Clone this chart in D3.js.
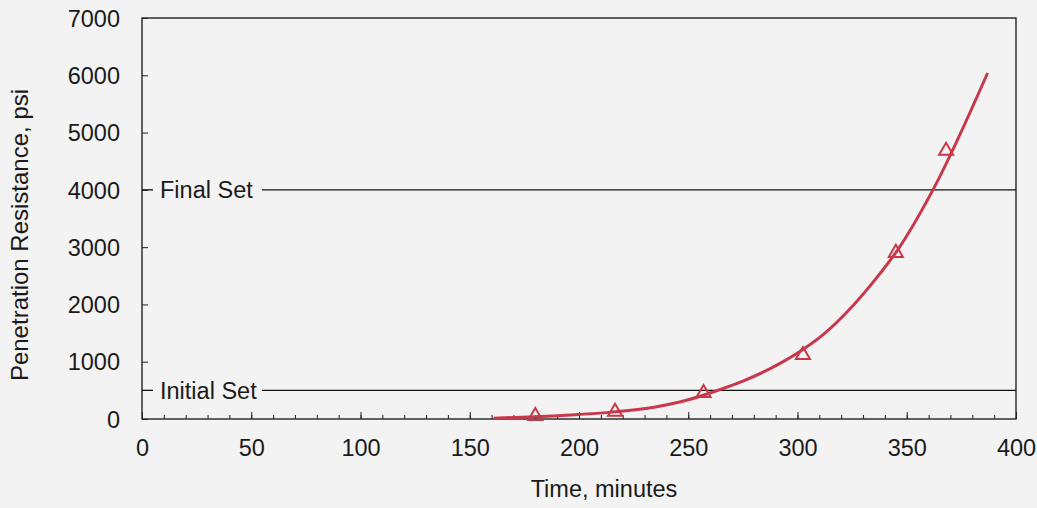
<!DOCTYPE html>
<html>
<head>
<meta charset="utf-8">
<script src="https://cdn.jsdelivr.net/npm/d3@7"></script>
<style>
  body { margin: 0; background: #f2f3f2; }
  text { font-family: "Liberation Sans", Arial, sans-serif; fill: #1a1a1a; }
</style>
</head>
<body>
<div id="chart"></div>
<script>
// Measured triangles (time, psi)
const obsTime = [180, 216.5, 257, 302.5, 345, 368];
const obsPsi = [52, 127, 454, 1117, 2900, 4683];

// Fitted curve
const fitTime = [161, 180, 200, 215, 235, 250, 262, 275, 292, 302, 312, 323, 338, 344, 362, 387];
const fitPsi = [15, 40, 80, 120, 210, 335, 480, 660, 970, 1200, 1480, 1880, 2550, 2850, 4000, 6040];

// Reference lines
const setNames = ["Initial Set", "Final Set"];
const setPsi = [500, 4000];

const xTicks = [0, 50, 100, 150, 200, 250, 300, 350, 400];
const yTicks = [0, 1000, 2000, 3000, 4000, 5000, 6000, 7000];

const W = 1037, H = 508;
const margin = {top: 18, right: 21, bottom: 89, left: 142};
const width = W - margin.left - margin.right,
      height = H - margin.top - margin.bottom;

const red = "#c8384b";
const fs = 23.5;

const svg = d3.select("#chart").append("svg")
    .attr("width", W).attr("height", H);

const g = svg.append("g")
    .attr("transform", `translate(${margin.left},${margin.top})`);

const x = d3.scaleLinear().domain([0, 400]).range([0, width]);
const y = d3.scaleLinear().domain([0, 7000]).range([height, 0]);

// Frame
g.append("rect")
    .attr("width", width).attr("height", height)
    .attr("fill", "none").attr("stroke", "#111").attr("stroke-width", 1.3);

// X axis: minor ticks every 10, major every 50, drawn inward
const xAxis = g.append("g").attr("transform", `translate(0,${height})`);
xAxis.call(d3.axisBottom(x).tickValues(d3.range(10, 400, 10)).tickSize(-4).tickFormat(""));
xAxis.select(".domain").remove();
const xMaj = g.append("g").attr("transform", `translate(0,${height})`)
    .call(d3.axisBottom(x).tickValues(xTicks).tickSize(-7).tickPadding(20).tickFormat(d3.format("d")));
xMaj.select(".domain").remove();
xAxis.selectAll("line").attr("stroke", "#222");
xMaj.selectAll("line").attr("stroke", "#222");
xMaj.selectAll("text").attr("font-size", fs).attr("fill", "#1a1a1a")
    .style("font-family", "Liberation Sans, Arial, sans-serif");

// Y axis
const yAx = g.append("g")
    .call(d3.axisLeft(y).tickValues(yTicks).tickSize(-6).tickPadding(22).tickFormat(d3.format("d")));
yAx.select(".domain").remove();
yAx.selectAll("line").attr("stroke", "#222");
yAx.selectAll("text").attr("font-size", fs).attr("fill", "#1a1a1a").attr("dy", "0.35em")
    .style("font-family", "Liberation Sans, Arial, sans-serif");

// Set lines with labels sitting on them
setNames.forEach((name, i) => {
    const yy = y(setPsi[i]);
    g.append("line")
        .attr("x1", 0).attr("x2", 11).attr("y1", yy).attr("y2", yy)
        .attr("stroke", "#111").attr("stroke-width", 1.3);
    g.append("line")
        .attr("x1", 120).attr("x2", width).attr("y1", yy).attr("y2", yy)
        .attr("stroke", "#111").attr("stroke-width", 1.3);
    g.append("text")
        .attr("x", 18).attr("y", yy).attr("dy", "0.35em")
        .attr("font-size", fs).text(name);
});

// Fitted curve
const line = d3.line().x((d, i) => x(fitTime[i])).y(d => y(d)).curve(d3.curveMonotoneX);
g.append("path")
    .datum(fitPsi)
    .attr("d", line)
    .attr("fill", "none").attr("stroke", red).attr("stroke-width", 3);

// Open triangles
const tri = d3.symbol().type(d3.symbolTriangle).size(85);
g.selectAll(".obs")
    .data(obsPsi)
    .enter().append("path")
    .attr("class", "obs")
    .attr("d", tri)
    .attr("transform", (d, i) => `translate(${x(obsTime[i])},${y(d)})`)
    .attr("fill", "none").attr("stroke", red).attr("stroke-width", 2);

// Axis titles
svg.append("text")
    .attr("x", 604).attr("y", 497)
    .attr("text-anchor", "middle").attr("font-size", fs)
    .text("Time, minutes");

svg.append("text")
    .attr("transform", `translate(28,235) rotate(-90)`)
    .attr("text-anchor", "middle").attr("font-size", 24)
    .text("Penetration Resistance, psi");
</script>
</body>
</html>
